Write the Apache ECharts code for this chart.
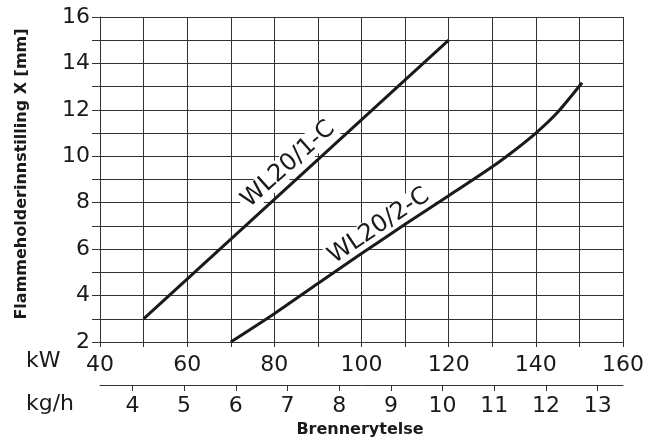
<!DOCTYPE html>
<html lang="no">
<head>
<meta charset="UTF-8">
<title>Flammeholderinnstilling</title>
<style>
  html, body { margin: 0; padding: 0; background: #fff; }
  #chart { width: 648px; height: 441px; }
</style>
</head>
<body>
<div id="chart"></div>
<script src="https://cdn.jsdelivr.net/npm/echarts@6.0.0/dist/echarts.min.js"></script>
<script>
// axis ranges
const kwRange = [40, 160];
const mmRange = [2, 16];
const kwPerKg = 11.86;                 // 1 kg/h oil ~ 11.86 kW
const kgTicks = [4, 5, 6, 7, 8, 9, 10, 11, 12, 13];

// curves: [kW, mm]
const wl201 = [[50, 3], [120, 15]];
const wl202 = [
  [70, 2], [80, 3.22], [90, 4.52], [100, 5.81], [110, 7.07], [120, 8.3],
  [130, 9.55], [135, 10.24], [140, 11.0], [145, 11.9], [150.6, 13.17]
];
const curveNames = ['WL20/1-C', 'WL20/2-C'];
const curveLabelAt = [[83.2, 9.65], [104.0, 7.0]];
const curveLabelAngle = [42, 34];

const font = 'DejaVu Sans';
const ink = '#1a1a1a';
const gridInk = '#333';

const chart = echarts.init(document.getElementById('chart'));

chart.setOption({
  animation: false,
  grid: { left: 100, right: 25, top: 17, bottom: 99, containLabel: false, outerBoundsMode: 'none' },
  xAxis: [
    {
      type: 'value', min: kwRange[0], max: kwRange[1], interval: 10,
      axisLine: { show: true, lineStyle: { color: gridInk, width: 1 } },
      axisTick: { show: true, length: 5, lineStyle: { color: gridInk } },
      splitLine: { show: true, lineStyle: { color: gridInk, width: 1 } },
      axisLabel: {
        margin: 12, color: ink, fontFamily: font, fontSize: 22,
        formatter: v => (v % 20 === 0 ? v : '')
      }
    },
    {
      type: 'value', position: 'bottom', offset: 43,
      min: kwRange[0] / kwPerKg, max: kwRange[1] / kwPerKg,
      axisLine: { show: true, onZero: false, lineStyle: { color: gridInk, width: 1 } },
      axisTick: { show: true, length: 6, customValues: kgTicks, lineStyle: { color: gridInk } },
      splitLine: { show: false },
      axisLabel: {
        margin: 10, color: ink, fontFamily: font, fontSize: 22,
        customValues: kgTicks, formatter: v => String(v)
      }
    }
  ],
  yAxis: {
    type: 'value', min: mmRange[0], max: mmRange[1], interval: 1,
    axisLine: { show: true, lineStyle: { color: gridInk, width: 1 } },
    axisTick: { show: true, length: 8, lineStyle: { color: gridInk } },
    splitLine: { show: true, lineStyle: { color: gridInk, width: 1 } },
    axisLabel: {
      margin: 10, color: ink, fontFamily: font, fontSize: 22,
      formatter: v => (v % 2 === 0 ? v : '')
    }
  },
  series: [
    {
      name: curveNames[0], type: 'line', data: wl201, showSymbol: false,
      lineStyle: { color: ink, width: 3 }, z: 3
    },
    {
      name: curveNames[1], type: 'line', data: wl202, showSymbol: false, smooth: 0.25,
      lineStyle: { color: ink, width: 3 }, z: 3
    }
  ]
});

// fixed texts plus curve names placed through the grid's own scales
const texts = [
  { type: 'text', left: 26, top: 350, style: { text: 'kW', fill: ink, font: '22px "DejaVu Sans"' } },
  { type: 'text', left: 26, top: 393, style: { text: 'kg/h', fill: ink, font: '22px "DejaVu Sans"' } },
  {
    type: 'text', x: 360, y: 430,
    style: { text: 'Brennerytelse', fill: ink, font: 'bold 16px "DejaVu Sans"', align: 'center', verticalAlign: 'middle' }
  },
  {
    type: 'text', x: 22, y: 174, rotation: Math.PI / 2,
    style: { text: 'Flammeholderinnstilling X [mm]', fill: ink, font: 'bold 16px "DejaVu Sans"', align: 'center', verticalAlign: 'middle' }
  }
];
curveNames.forEach((n, i) => {
  const p = chart.convertToPixel({ gridIndex: 0 }, curveLabelAt[i]);
  texts.push({
    type: 'text', x: p[0], y: p[1], z: 2,
    rotation: curveLabelAngle[i] * Math.PI / 180,
    style: {
      text: n, fill: ink, font: '24px "DejaVu Sans"', align: 'center', verticalAlign: 'middle',
      backgroundColor: '#fff', padding: [0, 3, 0, 3]
    }
  });
});
chart.setOption({ graphic: texts });
</script>
</body>
</html>
